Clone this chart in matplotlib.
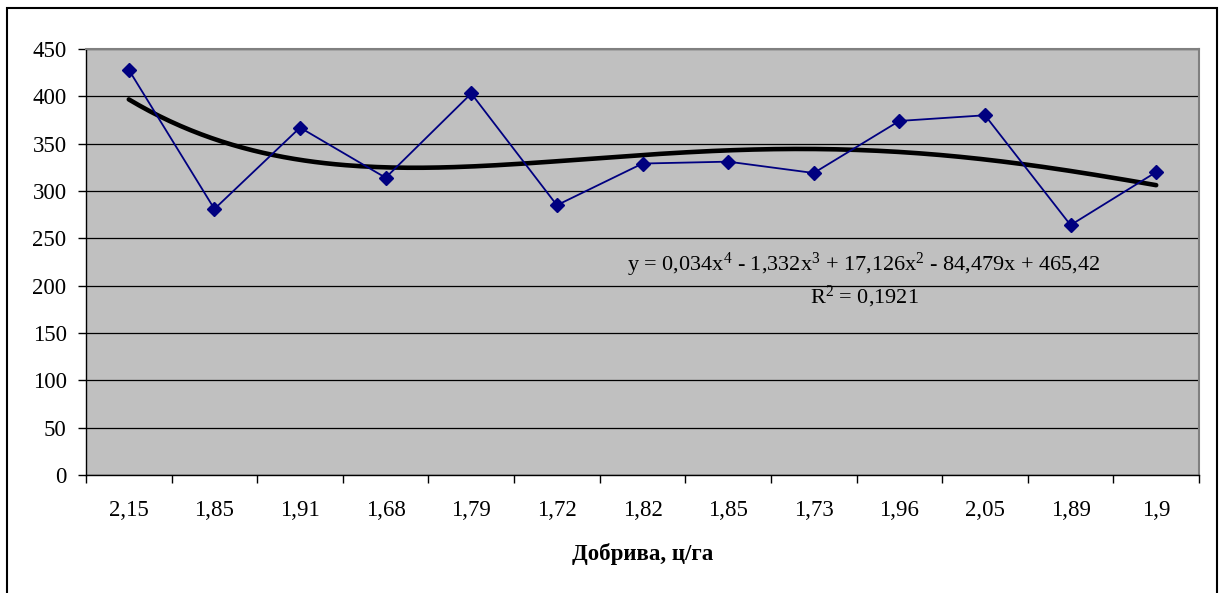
import numpy as np
import matplotlib
matplotlib.use('Agg')
import matplotlib.pyplot as plt
from matplotlib.patches import Rectangle

plt.rcParams['font.family'] = ['Liberation Serif', 'DejaVu Serif']
plt.rcParams['mathtext.fontset'] = 'custom'
plt.rcParams['mathtext.rm'] = 'Liberation Serif'
plt.rcParams['mathtext.it'] = 'Liberation Serif:italic'

#%% data
labels = ['2,15', '1,85', '1,91', '1,68', '1,79', '1,72', '1,82', '1,85',
          '1,73', '1,96', '2,05', '1,89', '1,9']
values = [428, 281, 367, 314, 403, 285, 329, 331, 319, 374, 380, 264, 320]
# trend coefficients as printed on the chart (x^4 .. x^0)
trend_coef = [0.034, -1.332, 17.126, -84.479, 465.42]

x = np.arange(1, len(values) + 1)
xs = np.linspace(1, len(values), 200)
trend = np.polyval(trend_coef, xs)

#%% plot
W, H = 1219, 593
fig = plt.figure(figsize=(W/100, H/100), dpi=100)
ax = fig.add_axes([86/W, 1 - 475/H, (1199 - 86)/W, (475 - 49)/H])
ax.set_facecolor('#C0C0C0')

ax.plot(xs, trend, color='black', lw=3.3, zorder=3, solid_capstyle='round')
ax.plot(x, values, color='#000080', lw=1.3, marker='D', ms=7,
        markerfacecolor='#000080', markeredgecolor='#000080', zorder=4)

ax.set_xlim(0.5, len(values) + 0.5)
ax.set_ylim(0, 450)
ax.set_yticks(np.arange(0, 451, 50))
ax.yaxis.grid(True, color='black', lw=0.9)
ax.set_axisbelow(True)

ax.set_xticks(np.arange(0.5, len(values) + 1, 1))
ax.set_xticklabels([])
ax.set_xticks(x, minor=True)
ax.set_xticklabels(labels, minor=True)
ax.tick_params(axis='x', which='major', direction='out', length=6, width=1, color='black')
ax.tick_params(axis='x', which='minor', length=0, pad=18, labelsize=16.5)
ax.tick_params(axis='y', direction='out', length=6, width=1, labelsize=16.5, pad=8)

for s in ['top', 'right']:
    ax.spines[s].set_color('#808080')
    ax.spines[s].set_linewidth(1.5)
for s in ['left', 'bottom']:
    ax.spines[s].set_color('black')
    ax.spines[s].set_linewidth(1)

ax.set_xlabel('Добрива, ц/га', fontsize=16.5, fontweight='bold', labelpad=16)

ax.text(864, H - 265, 'y = 0,034x$^{4}$ - 1,332x$^{3}$ + 17,126x$^{2}$ - 84,479x + 465,42',
        transform=None, fontsize=16, ha='center', va='center')
ax.text(864, H - 297, 'R$^{2}$ = 0,1921', fontsize=16, ha='center', va='center',
        transform=None)

fig.patches.append(Rectangle((7/W, -0.01), (1217 - 7)/W, 1 - 8/H + 0.01,
                             transform=fig.transFigure, fill=False,
                             edgecolor='black', lw=1.5))

plt.savefig('out.png', dpi=100)
